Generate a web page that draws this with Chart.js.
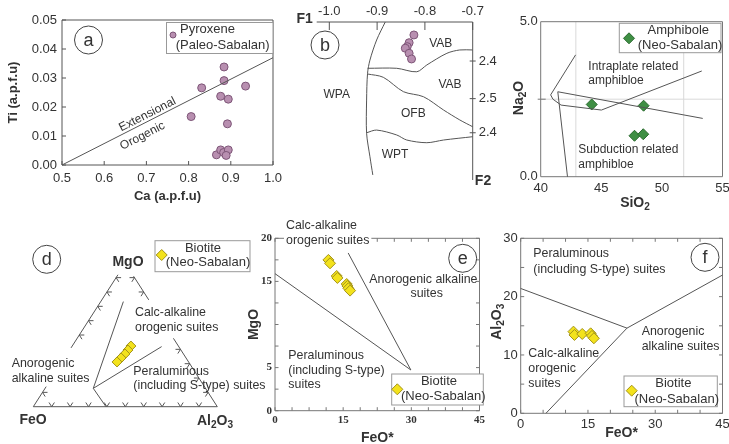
<!DOCTYPE html>
<html><head><meta charset="utf-8">
<script src="https://cdn.jsdelivr.net/npm/chart.js@4.4.1/dist/chart.umd.min.js"></script>
<style>
html,body{margin:0;padding:0;background:#fff;}
#wrap{position:relative;width:729px;height:444px;overflow:hidden;background:#fff;}
#wrap canvas{position:absolute;left:0;top:0;}
</style></head><body>
<div id="wrap">
<canvas id="pa" width="729" height="444"></canvas>
<canvas id="pb" width="729" height="444"></canvas>
<canvas id="pc" width="729" height="444"></canvas>
<canvas id="pd" width="729" height="444"></canvas>
<canvas id="pe" width="729" height="444"></canvas>
<canvas id="pf" width="729" height="444"></canvas>
</div>
<script>
// ================= DATA =================
// (a) Pyroxene (Paleo-Sabalan): Ti vs Ca (a.p.f.u)
const aCa = [0.884, 0.884, 0.831, 0.935, 0.876, 0.894, 0.806, 0.892, 0.866, 0.876, 0.883, 0.894, 0.889];
const aTi = [0.0338, 0.0291, 0.0266, 0.0272, 0.0237, 0.0227, 0.0167, 0.0142, 0.0035, 0.0052, 0.0043, 0.0052, 0.0033];
const aLineCa = [0.5, 1.0];
const aLineTi = [0.0, 0.037];
const aXTicks = [0.5, 0.6, 0.7, 0.8, 0.9, 1.0];
const aYTicks = [0, 0.01, 0.02, 0.03, 0.04, 0.05];
const aLegend = ['Pyroxene', '(Paleo-Sabalan)'];

// (b) F1-F2 discrimination diagram (F2 = position down the diagram)
const bF1 = [-0.823, -0.833, -0.837, -0.841, -0.833, -0.828];
const bF2 = [0.82, 1.31, 1.56, 1.66, 1.98, 2.34];
const bWPA_F1 = [-0.883, -0.901, -0.915, -0.920, -0.922, -0.922, -0.915, -0.909];
const bWPA_F2 = [0, 1.14, 2.41, 3.25, 4.94, 7.04, 8.53, 9.68];
const bVAB1_F1 = [-0.920, -0.859, -0.817, -0.796, -0.754, -0.727, -0.700];
const bVAB1_F2 = [2.93, 2.93, 3.15, 2.72, 1.98, 1.77, 1.77];
const bVAB2_F1 = [-0.920, -0.887, -0.845, -0.803, -0.761, -0.727, -0.700];
const bVAB2_F2 = [3.29, 3.50, 4.41, 4.73, 5.57, 6.20, 6.63];
const bOFB_F1 = [-0.922, -0.901, -0.859, -0.838, -0.796, -0.761, -0.700];
const bOFB_F2 = [7.01, 6.84, 7.15, 7.47, 7.64, 7.47, 7.26];
const bF1Ticks = [-1.0, -0.9, -0.8, -0.7];
const bF1Labels = ['-1.0', '-0.9', '-0.8', '-0.7'];
const bF2Ticks = [2.47, 4.85, 7.01];
const bF2Labels = ['2.4', '2.5', '2.4'];
const bRegions = ['VAB', 'VAB', 'WPA', 'OFB', 'WPT'];

// (c) Amphibole (Neo-Sabalan): Na2O vs SiO2
const cSiO2 = [44.21, 48.49, 47.74, 48.46];
const cNa2O = [2.33, 2.29, 1.32, 1.37];
const cLine1Si = [42.88, 40.82, 41.01, 41.68, 45.01, 53.29];
const cLine1Na = [3.93, 2.64, 2.50, 2.31, 2.15, 3.41];
const cLine2Si = [42.21, 41.41, 53.37];
const cLine2Na = [0, 2.74, 1.88];
const cXTicks = [40, 45, 50, 55];
const cYTicks = [0, 2.5, 5];
const cYLabels = ['0.0', '', '5.0'];
const cGridX = [42.9, 51.8];
const cGridY = [2.5];
const cLegend = ['Amphibole', '(Neo-Sabalan)'];

// (d) Ternary FeO - MgO - Al2O3 (%), Biotite
const dFeO   = [25.8, 28.8, 31.8, 35.3, 38.9];
const dMgO   = [42.3, 39.5, 36.8, 34.0, 31.2];
const dAl2O3 = [31.9, 31.7, 31.4, 30.7, 29.9];
// [FeO, MgO, Al2O3]
const dBase     = [[100, 0, 0], [0, 0, 100]];
const dLeftLow  = [[100, 0, 0], [86, 14, 0]];
const dLeftUp   = [[59, 41, 0], [8, 92, 0]];
const dRightUp  = [[0, 91, 9], [0, 74.5, 25.5]];
const dRightLow = [[0, 47.7, 52.3], [0, 0, 100]];
const dField1   = [[61.0, 12.8, 26.2], [14.4, 73.3, 12.3]];
const dField2   = [[61.0, 12.8, 26.2], [9.3, 41.9, 48.8]];
const dField3   = [[61.0, 12.8, 26.2], [60.5, 0, 39.5]];
const dTickBottom = [0.1, 0.2, 0.3, 0.4, 0.5, 0.6, 0.7, 0.8, 0.9];
const dTickLeft   = [0.1, 0.5, 0.6, 0.7, 0.8, 0.9];
const dTickRight  = [0.1, 0.2, 0.3, 0.4, 0.8, 0.9];
const bioLegend = ['Biotite', '(Neo-Sabalan)'];

// (e) MgO vs FeO*
const eFeO = [11.75, 12.11, 13.58, 13.73, 15.78, 15.93, 16.15, 16.52];
const eMgO = [17.49, 17.10, 15.63, 15.40, 14.70, 14.47, 14.20, 13.93];
const eLine1X = [0, 29.9], eLine1Y = [15.9, 4.72];
const eLine2X = [16.1, 29.9], eLine2Y = [18.3, 4.72];
const eXTicks = [0, 15, 30, 45];
const eYTicks = [0, 5, 15, 20];
const eXMinor = [0, 3.75, 7.5, 11.25, 15, 18.75, 22.5, 26.25, 30, 33.75, 37.5, 41.25, 45];
const eYMinor = [0, 2.5, 5, 7.5, 10, 12.5, 15, 17.5, 20];

// (f) Al2O3 vs FeO*
const fFeO = [11.77, 11.99, 13.72, 15.6, 15.89, 16.32];
const fAl2O3 = [14.0, 13.43, 13.6, 13.71, 13.26, 12.86];
const fLine1X = [0, 23.7], fLine1Y = [21.4, 14.6];
const fLine2X = [5.63, 23.7, 45], fLine2Y = [0, 14.6, 23.7];
const fXTicks = [0, 15, 30, 45];
const fYTicks = [0, 10, 20, 30];
const fXMinor = [0, 5, 10, 15, 20, 25, 30, 35, 40, 45];
const fYMinor = [0, 5, 10, 15, 20, 25, 30];

// ================= STYLE / HELPERS =================
const SANS = "'Liberation Sans', Arial, Helvetica, sans-serif";
const SERIF = "'Liberation Serif', 'Times New Roman', serif";
const TXT = '#333';
const LINE = '#555';
const MAUVE = '#b88fb0', MAUVE_E = '#7d5577';
const GREEN = '#3f8f44', GREEN_E = '#2a6a2e';
const YEL = '#f3e21c', YEL_E = '#a3931a';
const RS = 12.4; // region label size

const fnt = (size, bold, fam) => ({family: fam || SANS, size, weight: bold ? 'bold' : 'normal'});
const pts = (xs, ys) => xs.map((x, i) => ({x, y: ys[i]}));
const tern = (f, m, a) => ({x: (a + m / 2) / 100, y: m / 100});
const ternPts = arr => arr.map(c => tern(c[0], c[1], c[2]));

function fixSize(size) {
  return function (scale) {
    if (scale.isHorizontal()) scale.height = size; else scale.width = size;
    scale.paddingLeft = scale.paddingRight = scale.paddingTop = scale.paddingBottom = 0;
  };
}
function axis(o) {
  return {
    type: 'linear', position: o.pos, min: o.min, max: o.max, reverse: !!o.reverse,
    afterBuildTicks: s => { s.ticks = o.ticks.map(v => ({value: v})); },
    afterFit: fixSize(o.size),
    grid: {display: false, drawTicks: false},
    border: {display: false},
    ticks: {autoSkip: false, maxRotation: 0, minRotation: 0, padding: o.pad, color: TXT, font: o.font,
      callback: o.cb || ((v) => String(v))},
    title: o.title ? {display: true, text: o.title, color: TXT, font: o.titleFont, padding: o.titlePad} : {display: false}
  };
}
const lineDs = (data, tension) => ({data, showLine: true, pointRadius: 0, borderColor: LINE, borderWidth: 1,
  tension: tension || 0, fill: false, clip: false});
const ptDs = (data, style, r, fill, stroke) => ({data, showLine: false, pointStyle: style, pointRadius: r,
  pointBackgroundColor: fill, pointBorderColor: stroke, pointBorderWidth: 1, backgroundColor: fill, borderColor: stroke, clip: false});

function drawRich(ctx, parts, x, y, size, bold, align, rot, color, bg) {
  const f = s => (bold ? 'bold ' : '') + s + 'px ' + SANS;
  let w = 0; const ws = [];
  parts.forEach(([t, sub]) => { ctx.font = f(sub ? size * 0.72 : size); const m = ctx.measureText(t).width; ws.push(m); w += m; });
  ctx.save();
  ctx.translate(x, y);
  if (rot) ctx.rotate(rot * Math.PI / 180);
  let cx = align === 'center' ? -w / 2 : 0;
  if (bg) { ctx.fillStyle = '#fff'; ctx.fillRect(cx - 2, -size * 0.6, w + 4, size * 1.2); }
  ctx.fillStyle = color || TXT; ctx.textBaseline = 'middle'; ctx.textAlign = 'left';
  parts.forEach(([t, sub], i) => { ctx.font = f(sub ? size * 0.72 : size); ctx.fillText(t, cx, sub ? size * 0.3 : 0); cx += ws[i]; });
  ctx.restore();
}

const decoPlugin = {
  id: 'deco',
  beforeDatasetsDraw(chart, args, o) {
    if (!o) return;
    const ctx = chart.ctx, a = chart.chartArea;
    ctx.save();
    ctx.lineWidth = 1;
    (o.grid || []).forEach(g => {
      const s = chart.scales[g.scale];
      ctx.strokeStyle = g.color;
      g.values.forEach(v => {
        const p = s.getPixelForValue(v);
        ctx.beginPath();
        if (s.isHorizontal()) { ctx.moveTo(p, a.top); ctx.lineTo(p, a.bottom); }
        else { ctx.moveTo(a.left, p); ctx.lineTo(a.right, p); }
        ctx.stroke();
      });
    });
    ctx.strokeStyle = o.edgeColor || LINE;
    (o.edges || []).forEach(e => {
      ctx.beginPath();
      if (e === 'top') { ctx.moveTo(a.left, a.top); ctx.lineTo(a.right, a.top); }
      if (e === 'bottom') { ctx.moveTo(a.left, a.bottom); ctx.lineTo(a.right, a.bottom); }
      if (e === 'left') { ctx.moveTo(a.left, a.top); ctx.lineTo(a.left, a.bottom); }
      if (e === 'right') { ctx.moveTo(a.right, a.top); ctx.lineTo(a.right, a.bottom); }
      ctx.stroke();
    });
    (o.ticks || []).forEach(t => {
      const s = chart.scales[t.scale];
      const i = t.inLen || 0, out = t.outLen || 0;
      t.values.forEach(v => {
        const p = s.getPixelForValue(v);
        ctx.beginPath();
        if (t.side === 'bottom') { ctx.moveTo(p, a.bottom + out); ctx.lineTo(p, a.bottom - i); }
        if (t.side === 'top') { ctx.moveTo(p, a.top - out); ctx.lineTo(p, a.top + i); }
        if (t.side === 'left') { ctx.moveTo(a.left - out, p); ctx.lineTo(a.left + i, p); }
        if (t.side === 'right') { ctx.moveTo(a.right + out, p); ctx.lineTo(a.right - i, p); }
        ctx.stroke();
      });
    });
    if (o.tern) {
      const T = o.tern, sx = chart.scales.x, sy = chart.scales.y;
      const P = (x, y) => [sx.getPixelForValue(x), sy.getPixelForValue(y)];
      const dirs = {bottom: [[0.5, 1], [-0.5, 1]], left: [[1, 0], [0.5, -1]], right: [[-1, 0], [-0.5, -1]]};
      ctx.strokeStyle = LINE;
      ['bottom', 'left', 'right'].forEach(side => {
        (T[side] || []).forEach(v => {
          let x, y;
          if (side === 'bottom') { x = v; y = 0; } else if (side === 'left') { x = v / 2; y = v; } else { x = 1 - v / 2; y = v; }
          const [px, py] = P(x, y);
          dirs[side].forEach(([dx, dy]) => {
            const [qx, qy] = P(x + dx * 0.1, y + dy * 0.1);
            let vx = qx - px, vy = qy - py; const n = Math.hypot(vx, vy);
            vx = vx / n * T.len; vy = vy / n * T.len;
            ctx.beginPath(); ctx.moveTo(px, py); ctx.lineTo(px + vx, py + vy); ctx.stroke();
          });
        });
      });
    }
    ctx.restore();
  },
  afterDatasetsDraw(chart, args, o) {
    if (!o) return;
    const ctx = chart.ctx;
    ctx.save();
    (o.texts || []).forEach(t => {
      const parts = t.parts || [[t.t, 0]];
      drawRich(ctx, parts, t.x, t.y, t.size || RS, t.bold, t.align || 'left', t.rot || 0, t.color, t.bg);
    });
    if (o.circle) {
      const c = o.circle;
      ctx.beginPath(); ctx.arc(c.x, c.y, c.r, 0, Math.PI * 2);
      ctx.lineWidth = 1; ctx.strokeStyle = '#444'; ctx.stroke();
      ctx.fillStyle = TXT; ctx.font = '18px ' + SANS; ctx.textAlign = 'center'; ctx.textBaseline = 'middle';
      ctx.fillText(c.t, c.x, c.y + 1);
    }
    if (o.legend) {
      const L = o.legend, b = L.box;
      ctx.fillStyle = '#fff'; ctx.fillRect(b[0], b[1], b[2] - b[0], b[3] - b[1]);
      ctx.strokeStyle = '#999'; ctx.lineWidth = 1; ctx.strokeRect(b[0], b[1], b[2] - b[0], b[3] - b[1]);
      const m = L.marker;
      ctx.fillStyle = m.fill; ctx.strokeStyle = m.stroke;
      Chart.helpers.drawPoint(ctx, {pointStyle: m.style, radius: m.r, borderWidth: 1, rotation: 0}, m.x, m.y);
      L.lines.forEach(l => drawRich(ctx, [[l[0], 0]], l[1], l[2], 13, false, l[3], 0, TXT));
    }
    ctx.restore();
  }
};
Chart.register(decoPlugin);

function opts(padding, scales, deco) {
  return {
    responsive: false, animation: false, events: [],
    layout: {padding},
    scales,
    plugins: {legend: {display: false}, tooltip: {enabled: false}, deco}
  };
}

// ================= (a) =================
new Chart(document.getElementById('pa'), {
  type: 'scatter',
  data: {datasets: [
    lineDs(pts(aLineCa, aLineTi)),
    ptDs(pts(aCa, aTi), 'circle', 4, MAUVE, MAUVE_E)
  ]},
  options: opts({left: 0, top: 20, right: 456, bottom: 0}, {
    x: axis({pos: 'bottom', min: 0.5, max: 1.0, ticks: aXTicks, size: 279, pad: 6, font: fnt(13),
      cb: v => v.toFixed(1), title: 'Ca (a.p.f.u)', titleFont: fnt(13, true), titlePad: {top: 0, bottom: 239.7}}),
    y: axis({pos: 'left', min: 0, max: 0.05, ticks: aYTicks, size: 62, pad: 5, font: fnt(13),
      cb: v => v.toFixed(2), title: 'Ti (a.p.f.u)', titleFont: fnt(13, true), titlePad: {top: 5.5, bottom: 0}})
  }, {
    edges: ['top', 'bottom', 'left', 'right'], edgeColor: '#555',
    ticks: [{scale: 'x', side: 'bottom', values: aXTicks, inLen: 4}, {scale: 'y', side: 'left', values: aYTicks, inLen: 4}],
    texts: [
      {t: 'Extensional', x: 147.5, y: 114.5, size: 12, rot: -27, align: 'center'},
      {t: 'Orogenic', x: 142.5, y: 136, size: 12, rot: -27, align: 'center'}
    ],
    circle: {t: 'a', x: 88.5, y: 40, r: 14},
    legend: {box: [166.5, 22.5, 273, 53.5], marker: {x: 173, y: 35, style: 'circle', r: 3, fill: MAUVE, stroke: MAUVE_E},
      lines: [[aLegend[0], 180, 29, 'left'], [aLegend[1], 175.7, 45, 'left']]}
  })
});

// ================= (b) =================
new Chart(document.getElementById('pb'), {
  type: 'scatter',
  data: {datasets: [
    lineDs(pts(bWPA_F1, bWPA_F2), 0.3),
    lineDs(pts(bVAB1_F1, bVAB1_F2), 0.3),
    lineDs(pts(bVAB2_F1, bVAB2_F2), 0.3),
    lineDs(pts(bOFB_F1, bOFB_F2), 0.3),
    ptDs(pts(bF1, bF2), 'circle', 4, MAUVE, MAUVE_E)
  ]},
  options: opts({left: 316.7, top: 0, right: 0, bottom: 264}, {
    x: axis({pos: 'top', min: -1.0264, max: -0.7, ticks: bF1Ticks, size: 22, pad: 3, font: fnt(13),
      cb: (v, i) => bF1Labels[i]}),
    y: axis({pos: 'right', min: 0, max: 10, reverse: true, ticks: bF2Ticks, size: 256.3, pad: 6, font: fnt(13),
      cb: (v, i) => bF2Labels[i]})
  }, {
    edges: ['top', 'right'], edgeColor: '#555',
    ticks: [{scale: 'x', side: 'top', values: bF1Ticks, inLen: 8}, {scale: 'y', side: 'right', values: bF2Ticks, inLen: 3, outLen: 3}],
    texts: [
      {t: bRegions[0], x: 440.7, y: 43.3, size: 12, align: 'center'},
      {t: bRegions[1], x: 450, y: 85, size: 12, align: 'center'},
      {t: bRegions[2], x: 336.7, y: 95, size: 12, align: 'center'},
      {t: bRegions[3], x: 413.3, y: 113.3, size: 12, align: 'center'},
      {t: bRegions[4], x: 395, y: 155, size: 12, align: 'center'},
      {t: 'F1', x: 304.7, y: 19, size: 14, bold: true, align: 'center'},
      {t: 'F2', x: 483, y: 181.5, size: 14, bold: true, align: 'center'}
    ],
    circle: {t: 'b', x: 325, y: 45, r: 14}
  })
});

// ================= (c) =================
new Chart(document.getElementById('pc'), {
  type: 'scatter',
  data: {datasets: [
    lineDs(pts(cLine1Si, cLine1Na)),
    lineDs(pts(cLine2Si, cLine2Na)),
    ptDs(pts(cSiO2, cNa2O), 'rectRot', 5.5, GREEN, GREEN_E)
  ]},
  options: opts({left: 0, top: 21.7, right: 1, bottom: 0}, {
    x: axis({pos: 'bottom', min: 40, max: 55, ticks: cXTicks, size: 267.3, pad: 4, font: fnt(13)}),
    y: axis({pos: 'left', min: 0, max: 5, ticks: cYTicks, size: 540.7, pad: 3, font: fnt(13),
      cb: (v, i) => cYLabels[i]})
  }, {
    grid: [{scale: 'x', values: cGridX, color: '#d9d9d9'}, {scale: 'y', values: cGridY, color: '#d9d9d9'}],
    edges: ['top', 'bottom', 'left', 'right'], edgeColor: '#777',
    ticks: [{scale: 'y', side: 'left', values: [2.5], inLen: 5, outLen: 3}],
    texts: [
      {t: 'Intraplate related', x: 588.3, y: 66.7, size: 12},
      {t: 'amphibloe', x: 588.3, y: 81, size: 12},
      {t: 'Subduction related', x: 578.3, y: 149.3, size: 12},
      {t: 'amphibloe', x: 578.3, y: 165, size: 12},
      {parts: [['Na', 0], ['2', 1], ['O', 0]], x: 519, y: 98, size: 14, bold: true, align: 'center', rot: -90},
      {parts: [['SiO', 0], ['2', 1]], x: 635, y: 203, size: 14, bold: true, align: 'center'}
    ],
    legend: {box: [619.3, 23.3, 721, 52.7], marker: {x: 629, y: 38.3, style: 'rectRot', r: 5.5, fill: GREEN, stroke: GREEN_E},
      lines: [[cLegend[0], 678.3, 30.7, 'center'], [cLegend[1], 680, 45, 'center']]}
  })
});

// ================= (d) ternary =================
new Chart(document.getElementById('pd'), {
  type: 'scatter',
  data: {datasets: [
    lineDs(ternPts(dBase)), lineDs(ternPts(dLeftLow)), lineDs(ternPts(dLeftUp)),
    lineDs(ternPts(dRightUp)), lineDs(ternPts(dRightLow)),
    lineDs(ternPts(dField1)), lineDs(ternPts(dField2)), lineDs(ternPts(dField3)),
    ptDs(dFeO.map((f, i) => tern(f, dMgO[i], dAl2O3[i])), 'rectRot', 5, YEL, YEL_E)
  ]},
  options: opts({left: 33.3, top: 263.3, right: 511.7, bottom: 37.3}, {
    x: {type: 'linear', display: false, min: 0, max: 1},
    y: {type: 'linear', display: false, min: 0, max: 1}
  }, {
    tern: {bottom: dTickBottom, left: dTickLeft, right: dTickRight, len: 5},
    texts: [
      {t: 'MgO', x: 128, y: 262, size: 14, bold: true, align: 'center'},
      {t: 'FeO', x: 33, y: 420, size: 14, bold: true, align: 'center'},
      {parts: [['Al', 0], ['2', 1], ['O', 0], ['3', 1]], x: 215, y: 421, size: 14, bold: true, align: 'center'},
      {t: 'Calc-alkaline', x: 135, y: 312.7},
      {t: 'orogenic suites', x: 135, y: 327.3},
      {t: 'Anorogenic', x: 11.7, y: 364},
      {t: 'alkaline suites', x: 11.7, y: 379},
      {t: 'Peraluminous', x: 133.3, y: 371.7},
      {t: '(including S-type) suites', x: 133.3, y: 386}
    ],
    circle: {t: 'd', x: 46.7, y: 259.3, r: 14},
    legend: {box: [155, 240.7, 250, 271.7], marker: {x: 161.7, y: 255, style: 'rectRot', r: 5.5, fill: YEL, stroke: YEL_E},
      lines: [[bioLegend[0], 203, 248.3, 'center'], [bioLegend[1], 208, 262.7, 'center']]}
  })
});

// ================= (e) =================
new Chart(document.getElementById('pe'), {
  type: 'scatter',
  data: {datasets: [
    lineDs(pts(eLine1X, eLine1Y)),
    lineDs(pts(eLine2X, eLine2Y)),
    ptDs(pts(eFeO, eMgO), 'rectRot', 5.5, YEL, YEL_E)
  ]},
  options: opts({left: 0, top: 238.3, right: 249.5, bottom: 0}, {
    x: axis({pos: 'bottom', min: 0, max: 45, ticks: eXTicks, size: 33.3, pad: 3, font: fnt(11, true, SERIF),
      title: 'FeO*', titleFont: fnt(14, true), titlePad: {top: 0, bottom: -2.4}}),
    y: axis({pos: 'left', min: 0, max: 20, ticks: eYTicks, size: 275, pad: 3, font: fnt(11, true, SERIF),
      title: 'MgO', titleFont: fnt(14, true), titlePad: {top: 245.6, bottom: 0}})
  }, {
    edges: ['top', 'bottom', 'left', 'right'], edgeColor: '#777',
    ticks: [
      {scale: 'x', side: 'bottom', values: eXMinor, inLen: 3.5}, {scale: 'x', side: 'top', values: eXMinor, inLen: 3.5},
      {scale: 'y', side: 'left', values: eYMinor, inLen: 3.5}, {scale: 'y', side: 'right', values: eYMinor, inLen: 3.5}
    ],
    texts: [
      {t: 'Calc-alkaline', x: 286, y: 226},
      {t: 'orogenic suites', x: 286, y: 240.7, bg: true},
      {t: 'Anorogenic alkaline', x: 369.3, y: 279.3},
      {t: 'suites', x: 426.7, y: 293.3, align: 'center'},
      {t: 'Peraluminous', x: 288.3, y: 356},
      {t: '(including S-type)', x: 288.3, y: 370.7},
      {t: 'suites', x: 288.3, y: 385}
    ],
    circle: {t: 'e', x: 462.7, y: 258.3, r: 14},
    legend: {box: [391.7, 374, 483.3, 405], marker: {x: 397.3, y: 389.3, style: 'rectRot', r: 5.5, fill: YEL, stroke: YEL_E},
      lines: [[bioLegend[0], 439, 381.7, 'center'], [bioLegend[1], 443.3, 396.7, 'center']]}
  })
});

// ================= (f) =================
new Chart(document.getElementById('pf'), {
  type: 'scatter',
  data: {datasets: [
    lineDs(pts(fLine1X, fLine1Y)),
    lineDs(pts(fLine2X, fLine2Y)),
    ptDs(pts(fFeO, fAl2O3), 'rectRot', 5.5, YEL, YEL_E)
  ]},
  options: opts({left: 0, top: 238.3, right: 0.7, bottom: 0}, {
    x: axis({pos: 'bottom', min: 0, max: 45, ticks: fXTicks, size: 30.7, pad: 3, font: fnt(13),
      title: 'FeO*', titleFont: fnt(14, true), titlePad: {top: 0, bottom: 2.3}}),
    y: axis({pos: 'left', min: 0, max: 30, ticks: fYTicks, size: 520.7, pad: 3, font: fnt(13)})
  }, {
    edges: ['top', 'bottom', 'left', 'right'], edgeColor: '#777',
    ticks: [
      {scale: 'x', side: 'bottom', values: fXMinor, inLen: 3.5}, {scale: 'x', side: 'top', values: fXMinor, inLen: 3.5},
      {scale: 'y', side: 'left', values: fYMinor, inLen: 3.5}, {scale: 'y', side: 'right', values: fYMinor, inLen: 3.5}
    ],
    texts: [
      {t: 'Peraluminous', x: 533.3, y: 254},
      {t: '(including S-type) suites', x: 533.3, y: 270},
      {t: 'Anorogenic', x: 641.7, y: 331.7},
      {t: 'alkaline suites', x: 641.7, y: 346.7},
      {t: 'Calc-alkaline', x: 528.3, y: 354},
      {t: 'orogenic', x: 528.3, y: 368.3},
      {t: 'suites', x: 528.3, y: 383.3},
      {parts: [['Al', 0], ['2', 1], ['O', 0], ['3', 1]], x: 496.7, y: 321.7, size: 14, bold: true, align: 'center', rot: -90}
    ],
    circle: {t: 'f', x: 705, y: 257.3, r: 14},
    legend: {box: [624, 376, 717.3, 406.7], marker: {x: 631.7, y: 390.7, style: 'rectRot', r: 5.5, fill: YEL, stroke: YEL_E},
      lines: [[bioLegend[0], 673.3, 383.3, 'center'], [bioLegend[1], 676.7, 399, 'center']]}
  })
});
</script>
</body></html>
